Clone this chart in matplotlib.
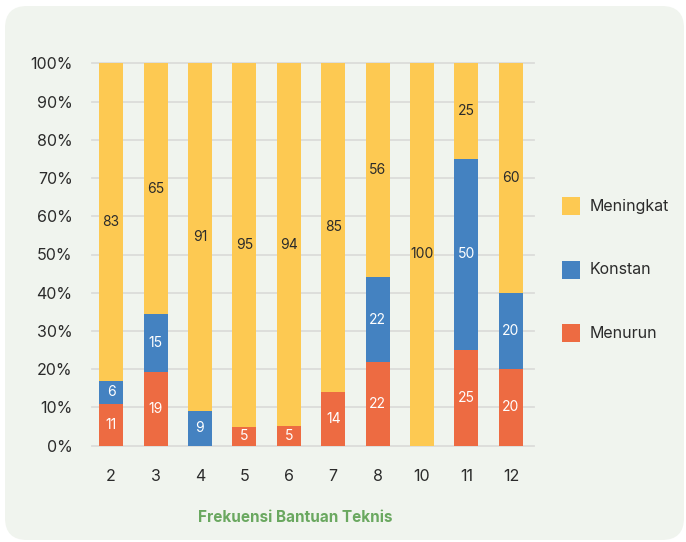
import matplotlib
matplotlib.use("Agg")
import matplotlib.pyplot as plt
from matplotlib.patches import FancyBboxPatch, Rectangle
import numpy as np

plt.rcParams['font.family'] = ['Inter', 'DejaVu Sans']

# Frequency of technical assistance (categories) and response shares
categories = ['2', '3', '4', '5', '6', '7', '8', '10', '11', '12']
menurun = [11, 19, 0, 5, 5, 14, 22, 0, 25, 20]
konstan = [6, 15, 9, 0, 0, 0, 22, 0, 50, 20]
meningkat = [83, 65, 91, 95, 94, 85, 56, 100, 25, 60]
y_ticks = [0, 10, 20, 30, 40, 50, 60, 70, 80, 90, 100]

series = [
    ('Menurun', menurun, '#ED6B42', 'white'),
    ('Konstan', konstan, '#4482C1', 'white'),
    ('Meningkat', meningkat, '#FDC952', '#2b2b2b'),
]

W, H, DPI = 686, 542, 100
fig = plt.figure(figsize=(W / DPI, H / DPI), dpi=DPI, facecolor='white')

# rounded card behind the chart
card = FancyBboxPatch((5 / DPI, 2 / DPI), 679 / DPI, 534 / DPI,
                      boxstyle='round,pad=0,rounding_size=0.22',
                      transform=fig.dpi_scale_trans,
                      facecolor='#F0F4EE', edgecolor='none', zorder=-10)
fig.patches.append(card)

ax = fig.add_axes([92 / W, 1 - 445.7 / H, (534 - 92) / W, (445.7 - 63.3) / H])
ax.set_facecolor('none')
ax.set_zorder(5)

x = np.arange(len(categories))
totals = np.array(menurun, float) + np.array(konstan, float) + np.array(meningkat, float)
bottom = np.zeros(len(categories))
for name, vals, color, tcolor in series:
    vals = np.array(vals, float)
    share = vals / totals * 100
    ax.bar(x, share, bottom=bottom, width=0.54, color=color, zorder=3, label=name)
    for xi, v, s, b in zip(x, vals, share, bottom):
        if v > 0:
            ax.text(xi, b + s / 2, f'{int(v)}', ha='center', va='center',
                    fontsize=10, color=tcolor, zorder=4)
    bottom += share

ax.set_xlim(-0.43, 9.52)
ax.set_ylim(0, 100)
ax.set_xticks(x)
ax.set_xticklabels(categories)
ax.set_yticks(y_ticks)
ax.set_yticklabels([f'{t}%' for t in y_ticks])
for t in y_ticks:
    ax.axhline(t, color='#DCDCDA', lw=1.3, zorder=1, clip_on=False)

for s in ax.spines.values():
    s.set_visible(False)
ax.tick_params(axis='both', length=0, labelsize=11.5, colors='#2b2b2b')
ax.tick_params(axis='y', pad=14)
ax.tick_params(axis='x', pad=17)

fig.text(295.5 / W, 1 - 517 / H, 'Frekuensi Bantuan Teknis', ha='center', va='center',
         fontsize=11, fontweight='bold', color='#6AA860')

# legend entries
legend_items = [('Meningkat', '#FDC952', 206), ('Konstan', '#4482C1', 270), ('Menurun', '#ED6B42', 333)]
for name, color, yc in legend_items:
    fig.patches.append(Rectangle((562 / W, 1 - (yc + 9) / H), 18 / W, 18 / H,
                                 transform=fig.transFigure, facecolor=color,
                                 edgecolor='none'))
    fig.text(590 / W, 1 - yc / H, name, ha='left', va='center',
             fontsize=11.5, color='#2b2b2b')

fig.savefig('out.png', dpi=DPI, facecolor='white')
